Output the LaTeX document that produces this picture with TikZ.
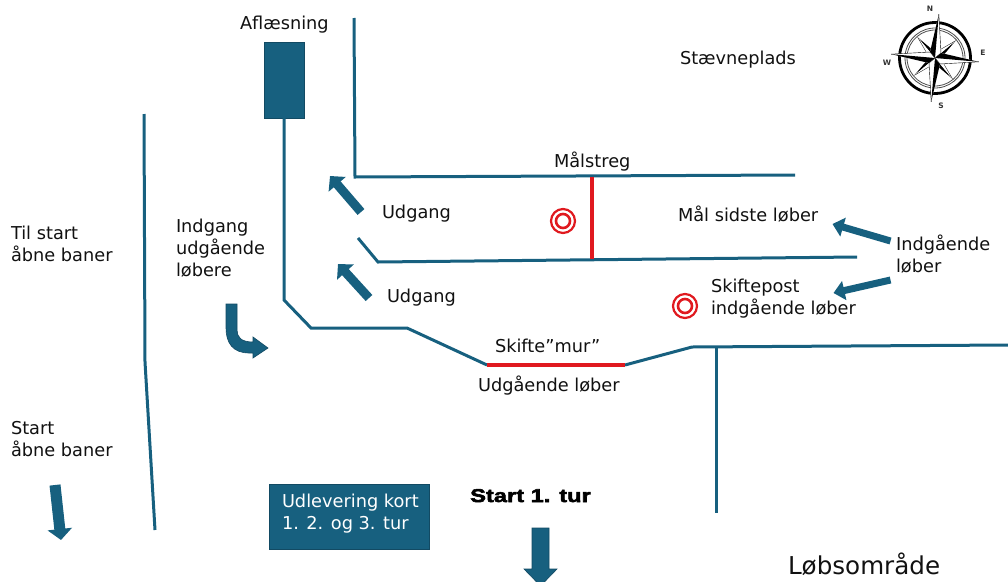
\documentclass[tikz,border=0pt]{standalone}
\usepackage{fontspec}
\setmainfont{DejaVu Sans}
\newfontfamily\heavyfont[FakeBold=3,FakeStretch=1.28]{Liberation Sans Bold}
\usetikzlibrary{arrows.meta}
\definecolor{petrol}{HTML}{17607F}
\definecolor{petroldark}{HTML}{124A63}
\definecolor{ink}{HTML}{111111}
\definecolor{markred}{HTML}{E0191F}
\tikzset{
  x=1pt,y=-1pt,
  lbl/.style={inner sep=0pt,outer sep=0pt,anchor=base west,text=ink,font=\fontsize{17.75}{22}\selectfont},
  multi/.style={inner sep=0pt,outer sep=0pt,anchor=north west,align=left,text=ink,font=\fontsize{17.75}{22}\selectfont},
  wall/.style={draw=petrol,line width=3pt,line join=miter},
  redwall/.style={draw=markred,line width=4pt},
  blockbox/.style={draw=petroldark,fill=petrol,line width=0.8pt,inner sep=0pt,outer sep=0pt,anchor=north west},
  post/.style={circle,draw=markred,line width=2.2pt,minimum size=24pt,inner sep=0pt,
    path picture={\draw[markred,line width=2.6pt] (path picture bounding box.center) circle (7pt);}},
  flow/.style={draw=petroldark,fill=petrol,line width=0.6pt,line join=miter},
  thinarrow/.style={draw=petrol,line width=9pt,-{Triangle[length=11pt,width=22pt,fill=petrol]}},
  slimarrow/.style={draw=petrol,line width=7pt,-{Triangle[length=11pt,width=19pt,fill=petrol]}},
  fatarrow/.style={draw=petrol,line width=11pt,-{Triangle[length=11pt,width=24pt,fill=petrol]}},
  compasslbl/.style={inner sep=0pt,font=\rmfamily\bfseries\fontsize{7.5}{8}\selectfont,text=black!80},
}
\begin{document}
\begin{tikzpicture}
\useasboundingbox (0,0) rectangle (1008,581);
\clip (0,0) rectangle (1008,581);

% Walls
\coordinate (a1) at (144,114);\coordinate (a2) at (145,362);\coordinate (a3) at (155,530);
\draw[wall] (a1) -- (a2) -- (a3);
\coordinate (b1) at (354,18);\coordinate (b2) at (355,177);\coordinate (b3) at (795,175);
\draw[wall] (b1) -- (b2) -- (b3);
\coordinate (c1) at (358,238);\coordinate (c2) at (378,262);\coordinate (c3) at (857,257);
\draw[wall] (c1) -- (c2) -- (c3);

\node[blockbox,minimum width=40pt,minimum height=76pt] (afl) at (264,42) {};
\coordinate (d2) at (284,300);\coordinate (d3) at (311,328);\coordinate (d4) at (407,328);
\coordinate (m1) at (487,365);\coordinate (m2) at (625,365);
\coordinate (e2) at (692,347);\coordinate (e3) at (1008,345);
\coordinate (f1) at (716,347);\coordinate (f2) at (716,513);
\draw[wall] (afl.south) -- (d2) -- (d3) -- (d4) -- (m1);
\draw[wall] (m2) -- (e2) -- (e3);
\draw[wall] (f1) -- (f2);
\draw[redwall] (m1) -- (m2);
\coordinate (g1) at (592,177);\coordinate (g2) at (592,259);
\draw[redwall] (g1) -- (g2);

% Control posts
\node[post] (post1) at (563,221) {};
\node[post] (post2) at (685,306) {};

% Flow arrows
\coordinate (u1a) at (361,212);\coordinate (u1b) at (330,176);
\draw[thinarrow] (u1a) -- (u1b);
\coordinate (u2a) at (369,298);\coordinate (u2b) at (338,264);
\draw[thinarrow] (u2a) -- (u2b);
\coordinate (i1a) at (890.5,241);\coordinate (i1b) at (832.5,224);
\draw[slimarrow] (i1a) -- (i1b);
\coordinate (i2a) at (890.5,280);\coordinate (i2b) at (833.5,293);
\draw[slimarrow] (i2a) -- (i2b);
\coordinate (s1a) at (55,485);\coordinate (s1b) at (61,540);
\draw[fatarrow] (s1a) -- (s1b);
\draw[flow] (532,528) -- (549,528) -- (549,569) -- (557,569) -- (540.5,586) -- (524,569) -- (532,569) -- cycle;
\draw[flow] (226,304) -- (237,304) -- (237,330) .. controls (237,337) and (241,342) .. (253,342)
  -- (253,337) -- (268,348) -- (253,358) -- (253,353) -- (249,353)
  .. controls (233,353) and (226,343) .. (226,328) -- cycle;

% Box
\node[blockbox,minimum width=160pt,minimum height=65pt] (udl) at (269,484) {};
\node[multi,text=white] (udltxt) at (282,494) {Udlevering kort\\1. 2. og 3. tur};

% Labels
\node[lbl] (t1) at (240,29) {Aflæsning};
\node[lbl] (t2) at (680,64) {Stævneplads};
\node[lbl] (t3) at (554,167) {Målstreg};
\node[lbl] (t4) at (382,218) {Udgang};
\node[lbl] (t5) at (387,302) {Udgang};
\node[lbl] (t6) at (678,221) {Mål sidste løber};
\node[multi] (t7) at (896,235) {Indgående\\løber};
\node[multi] (t8) at (711,279) {Skiftepost\\indgående løber};
\node[lbl] (t9) at (495,352) {Skifte”mur”};
\node[lbl] (t10) at (478,391) {Udgående løber};
\node[multi] (t11) at (176,219) {Indgang\\udgående\\løbere};
\node[multi] (t12) at (11,226) {Til start\\åbne baner};
\node[multi] (t13) at (11,421) {Start\\åbne baner};
\node[inner sep=0pt,anchor=base west,font=\heavyfont\fontsize{18.5}{20}\selectfont,text=black] (t14) at (470,502) {Start 1. tur};
\node[lbl,font=\fontsize{24.6}{26}\selectfont] (t15) at (788,574) {Løbsområde};

% Compass rose
\begin{scope}[shift={(935,58)},rotate=-5]
  \draw[black,line width=2.8pt] (0,0) circle (35.5pt);
  \draw[black!70,line width=0.8pt] (0,0) circle (30pt);
  \draw[black!70,line width=0.8pt] (0,0) circle (28pt);
  \foreach \a in {45,135,225,315}{
    \begin{scope}[rotate=\a]
      \fill[black] (0,-27) -- (4,-4) -- (0,0) -- cycle;
      \fill[white] (0,-27) -- (-4,-4) -- (0,0) -- cycle;
      \draw[black,line width=0.3pt] (0,-27) -- (-4,-4);
    \end{scope}
  }
  \foreach \a in {0,90,180,270}{
    \begin{scope}[rotate=\a]
      \fill[white] (0,-44) -- (5.5,-5.5) -- (0,0) -- (-5.5,-5.5) -- cycle;
      \fill[black] (0,-44) -- (-5.5,-5.5) -- (0,0) -- cycle;
      \draw[black,line width=0.4pt] (0,-44) -- (5.5,-5.5) -- (0,0);
    \end{scope}
  }
\end{scope}
\node[compasslbl] (cn) at (930,9) {N};
\node[compasslbl] (ce) at (983,53) {E};
\node[compasslbl] (cs) at (941,106) {S};
\node[compasslbl] (cw) at (887,63) {W};
\end{tikzpicture}
\end{document}
